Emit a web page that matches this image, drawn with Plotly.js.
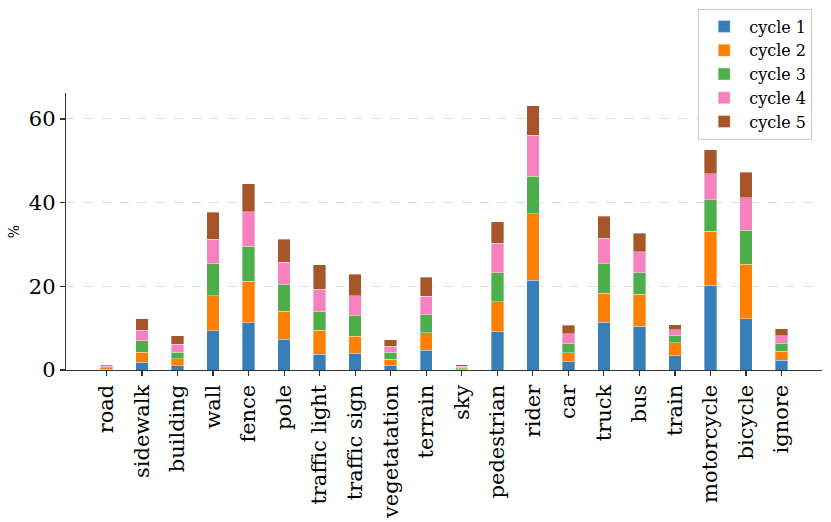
<!DOCTYPE html>
<html>
<head>
<meta charset="utf-8">
<script src="https://cdn.plot.ly/plotly-3.0.1.min.js"></script>
<style>html,body{margin:0;padding:0;background:#fff;}#chart{width:831px;height:522px;}</style>
</head>
<body>
<div id="chart"></div>
<script>
const categories = ["road","sidewalk","building","wall","fence","pole","traffic light","traffic sign","vegetatation","terrain","sky","pedestrian","rider","car","truck","bus","train","motorcycle","bicycle","ignore"];
const cycle1 = [0.2, 1.8, 1.0, 9.4, 11.25, 7.3, 3.75, 4.05, 1.0, 4.75, 0.1, 9.2, 21.4, 2.0, 11.4, 10.5, 3.45, 20.2, 12.25, 2.35];
const cycle2 = [0.3, 2.5, 1.65, 8.3, 10.0, 6.8, 5.7, 4.05, 1.6, 4.15, 0.2, 7.1, 16.0, 2.15, 6.9, 7.55, 3.1, 13.0, 13.05, 2.1];
const cycle3 = [0.25, 2.65, 1.55, 7.8, 8.3, 6.25, 4.6, 4.9, 1.6, 4.3, 0.3, 7.0, 8.9, 2.15, 7.1, 5.15, 1.65, 7.5, 8.05, 1.9];
const cycle4 = [0.25, 2.5, 1.95, 5.75, 8.3, 5.45, 5.3, 4.7, 1.5, 4.45, 0.35, 7.0, 9.8, 2.35, 6.1, 5.1, 1.4, 6.25, 7.8, 1.8];
const cycle5 = [0.3, 2.8, 2.05, 6.4, 6.7, 5.45, 5.8, 5.2, 1.55, 4.5, 0.3, 5.1, 7.0, 2.1, 5.3, 4.4, 1.2, 5.65, 6.1, 1.7];
const seriesNames = ["cycle 1","cycle 2","cycle 3","cycle 4","cycle 5"];
const seriesColors = ["#377eb8","#ff7f00","#4daf4a","#f781bf","#a65628"];
const yTicks = [0, 20, 40, 60];

const series = [cycle1, cycle2, cycle3, cycle4, cycle5];
const traces = series.map((vals, i) => ({
  type: 'bar',
  name: seriesNames[i],
  x: categories,
  y: vals,
  width: 0.35,
  marker: {color: seriesColors[i], line: {width: 0.6, color: 'rgba(255,255,255,0.6)'}},
  hoverinfo: 'x+y+name'
}));

const font = "DejaVu Serif, serif";
const layout = {
  width: 831, height: 522,
  barmode: 'stack',
  paper_bgcolor: '#fff', plot_bgcolor: '#fff',
  margin: {l: 66, r: 9, t: 87, b: 152, pad: 0},
  font: {family: font, color: '#000'},
  showlegend: true,
  legend: {
    x: 0.987, xanchor: 'right', y: 1.305, yanchor: 'top',
    bgcolor: 'rgba(255,255,255,0.9)', bordercolor: '#cccccc', borderwidth: 1,
    font: {family: font, size: 16, color: '#000'},
    traceorder: 'normal', tracegroupgap: 0, itemwidth: 40
  },
  xaxis: {
    type: 'category',
    range: [-1.14, 20.14],
    showline: true, linecolor: '#333', linewidth: 1.3,
    ticks: 'outside', ticklen: 5, tickwidth: 1.2, tickcolor: '#333',
    tickangle: -90,
    tickfont: {family: font, size: 21, color: '#000'},
    showgrid: false, zeroline: false, fixedrange: true
  },
  yaxis: {
    range: [0, 66.2],
    tickvals: yTicks, ticktext: yTicks.map(String),
    showline: true, linecolor: '#333', linewidth: 1.3,
    ticks: 'outside', ticklen: 5, tickwidth: 1.2, tickcolor: '#333',
    tickfont: {family: font, size: 21, color: '#000'},
    showgrid: true, gridcolor: '#dddddd', griddash: 'dash', gridwidth: 1,
    zeroline: false,
    title: {text: '%', font: {family: font, size: 14, color: '#000'}, standoff: 6},
    fixedrange: true
  }
};

Plotly.newPlot('chart', traces, layout, {displayModeBar: false, staticPlot: true});
</script>
</body>
</html>
